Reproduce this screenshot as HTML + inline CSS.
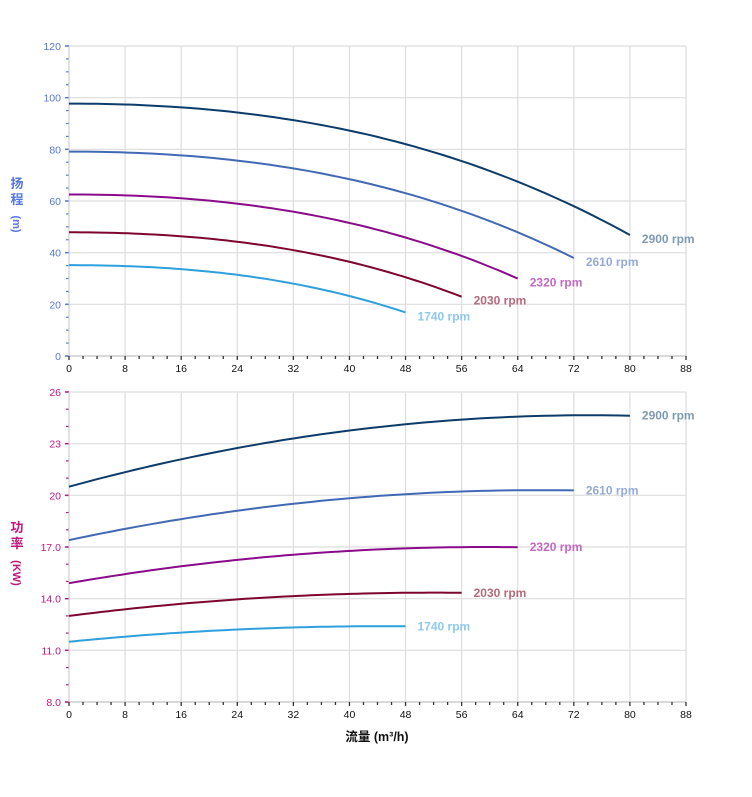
<!DOCTYPE html>
<html><head><meta charset="utf-8"><style>
html,body{margin:0;padding:0;background:#fff;}
svg{display:block;font-family:"Liberation Sans","Noto Sans CJK SC",sans-serif;}
</style></head><body>
<svg id="s" width="752" height="797" xmlns="http://www.w3.org/2000/svg"></svg>
<script>
const s=document.getElementById('s');let h='';
const X0=69,XU=617/88;
const xp=q=>X0+q*XU;
function chart(top,bot,ymin,ymax,major,minor,col,fmt){
 const yp=v=>bot-(v-ymin)/(ymax-ymin)*(bot-top);
 for(let q=0;q<=88;q+=8)h+=`<line x1="${xp(q)}" y1="${top}" x2="${xp(q)}" y2="${bot}" stroke="#ddd" stroke-width="1.2"/>`;
 for(let v=ymin;v<=ymax+1e-9;v+=major){h+=`<line x1="${X0}" y1="${yp(v)}" x2="686" y2="${yp(v)}" stroke="#ddd" stroke-width="1.2"/>`;
  h+=`<line x1="${X0-4}" y1="${yp(v)}" x2="${X0}" y2="${yp(v)}" stroke="${col}" stroke-width="1.5"/>`;
  h+=`<text x="${X0-8}" y="${yp(v)+4}" font-size="10.5" fill="${col}" text-anchor="end">${fmt(v)}</text>`;}
 for(let v=ymin;v<=ymax+1e-9;v+=minor)h+=`<line x1="${X0-3}" y1="${yp(v)}" x2="${X0}" y2="${yp(v)}" stroke="${col}" stroke-width="1.2"/>`;
 h+=`<line x1="${X0}" y1="${top}" x2="${X0}" y2="${bot}" stroke="#ccc"/>`;
 h+=`<line x1="${X0}" y1="${bot}" x2="686" y2="${bot}" stroke="#bbb"/>`;
 for(let q=0;q<=88;q+=2)h+=`<line x1="${xp(q)}" y1="${bot}" x2="${xp(q)}" y2="${bot+(q%8?3:4)}" stroke="#333" stroke-width="1.3"/>`;
 for(let q=0;q<=88;q+=8)h+=`<text x="${xp(q)}" y="${bot+16}" font-size="10.5" fill="#111" text-anchor="middle">${q}</text>`;
 return yp;
}
const yH=chart(46,356,0,120,20,5,"#5577dd",v=>v);
const yP=chart(392,702,8,26,3,1,"#c0177f",v=>v==26||v==23||v==20?v:v.toFixed(1));
const C=[
 {r:1,q:80,c:"#0d3c6b",l:"#7d9bb5",P0:20.5,Pm:24.65},
 {r:0.9,q:72,c:"#4169b4",l:"#95aadb",P0:17.4,Pm:20.3},
 {r:0.8,q:64,c:"#8b0a8b",l:"#c06ac0",P0:14.9,Pm:17.0},
 {r:0.7,q:56,c:"#7e0530",l:"#b46a7a",P0:13.0,Pm:14.35},
 {r:0.6,q:48,c:"#2ea0dc",l:"#8dcaea",P0:11.5,Pm:12.4}];
const rpm=["2900","2610","2320","2030","1740"];
const H=Q=>97.7-0.0051*Q*Q-3.56e-5*Q*Q*Q;
C.forEach((c,i)=>{
 let d='',d2='';
 for(let k=0;k<=60;k++){const Q=c.q*k/60;
  const hv=c.r*c.r*H(Q/c.r);
  d+=(k?'L':'M')+xp(Q).toFixed(1)+' '+yH(hv).toFixed(1);
  const qp=0.93*c.q,t=1-Q/qp;const pv=c.P0+(c.Pm-c.P0)*(1-t*t);
  d2+=(k?'L':'M')+xp(Q).toFixed(1)+' '+yP(pv).toFixed(1);}
 h+=`<path d="${d}" fill="none" stroke="${c.c}" stroke-width="2"/>`;
 h+=`<path d="${d2}" fill="none" stroke="${c.c}" stroke-width="2"/>`;
 const he=c.r*c.r*H(c.q/c.r);
 h+=`<text x="${xp(c.q)+12}" y="${yH(he)+8}" font-size="12" font-weight="bold" fill="${c.l}">${rpm[i]} rpm</text>`;
 const t=1-1/0.93;const pe=c.P0+(c.Pm-c.P0)*(1-t*t);
 h+=`<text x="${xp(c.q)+12}" y="${yP(pe)+4}" font-size="12" font-weight="bold" fill="${c.l}">${rpm[i]} rpm</text>`;
});
h+=`<text x="17" y="188" font-size="13" font-weight="bold" fill="#5577dd" text-anchor="middle">扬</text><text x="17" y="204" font-size="13" font-weight="bold" fill="#5577dd" text-anchor="middle">程</text><text transform="translate(13,224) rotate(90)" font-size="11" font-weight="bold" fill="#5577dd" text-anchor="middle">(m)</text>`;
h+=`<text x="17" y="532" font-size="13" font-weight="bold" fill="#c0177f" text-anchor="middle">功</text><text x="17" y="548" font-size="13" font-weight="bold" fill="#c0177f" text-anchor="middle">率</text><text transform="translate(13,573) rotate(90)" font-size="11" font-weight="bold" fill="#c0177f" text-anchor="middle">(KW)</text>`;
h+=`<text x="377" y="741" font-size="12.5" font-weight="bold" fill="#111" text-anchor="middle">流量 (m³/h)</text>`;
s.innerHTML=h;
</script>
</body></html>
